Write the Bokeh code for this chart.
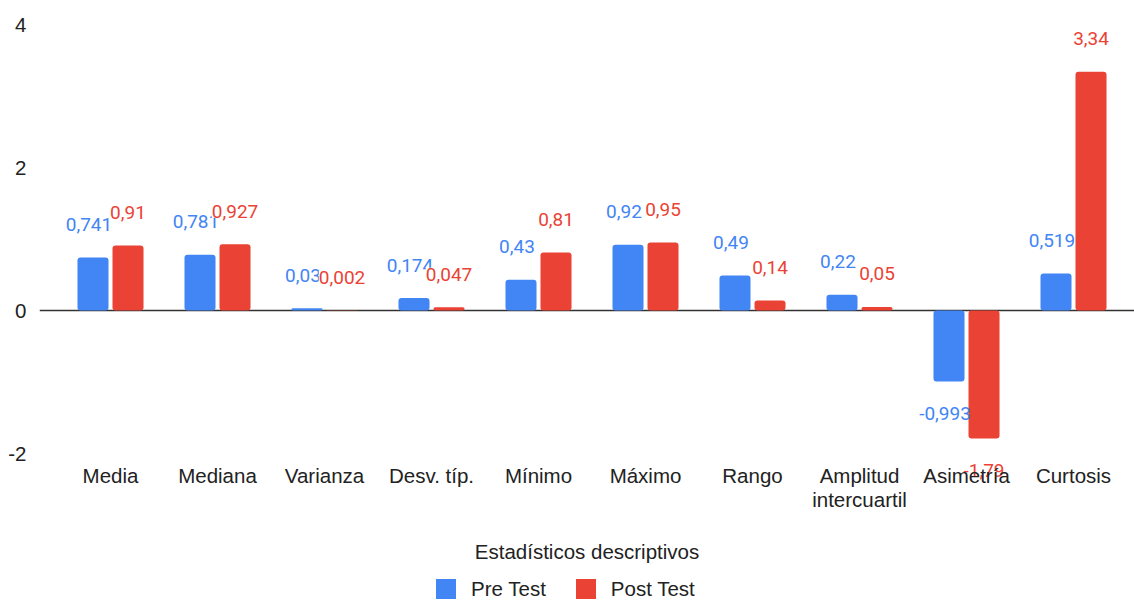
from bokeh.plotting import figure
from bokeh.models import (Range1d, FixedTicker, ColumnDataSource, LabelSet, Span,
                          Legend, LegendItem)
from bokeh.core.properties import value
from bokeh.transform import dodge
from bokeh.embed import file_html
from bokeh.resources import INLINE

categories = ["Media", "Mediana", "Varianza", "Desv. típ.", "Mínimo", "Máximo",
              "Rango", "Amplitud\nintercuartil", "Asimetría", "Curtosis"]
pre_test = [0.741, 0.781, 0.03, 0.174, 0.43, 0.92, 0.49, 0.22, -0.993, 0.519]
post_test = [0.91, 0.927, 0.002, 0.047, 0.81, 0.95, 0.14, 0.05, -1.79, 3.34]
y_ticks = [-2, 0, 2, 4]
series_names = ["Pre Test", "Post Test"]

BLUE = "#4285F4"
RED = "#EA4335"
LBL_FONT = "Roboto"
AX_FONT = "Liberation Sans"
AX_SIZE = "20.5px"
TXT = "#222222"


def fmt(v):
    return str(v).replace(".", ",")


idx = list(range(len(categories)))
src = ColumnDataSource(dict(
    x=idx,
    pre=pre_test,
    post=post_test,
    pre_lbl=[fmt(v) for v in pre_test],
    post_lbl=[fmt(v) for v in post_test],
    pre_off=[33 if v >= 0 else -32 for v in pre_test],
    post_off=[33 if v >= 0 else -32 for v in post_test],
))

# frame spans from the top margin to the bottom of the window; the y scale is
# 71.5 px per unit so that 4 sits at y=24 and -2 at y=453
p = figure(frame_width=1095, frame_height=577,
           x_range=Range1d(-0.6636, 9.570), y_range=Range1d(-4.0699, 4),
           output_backend="svg", toolbar_location=None,
           min_border_left=39, min_border_right=0, min_border_top=24,
           min_border_bottom=0)
p.outline_line_color = None
p.xgrid.visible = False
p.ygrid.visible = False
p.background_fill_color = "white"

zero = Span(location=0, dimension="width", line_color="#333333",
            line_width=1.6, level="underlay")
p.add_layout(zero)

off = 0.1636
bw = 0.29
r_pre = p.vbar(x=dodge("x", -off, range=p.x_range), top="pre", bottom=0,
               width=bw, source=src, fill_color=BLUE, line_color=None,
               border_radius=3)
r_post = p.vbar(x=dodge("x", off, range=p.x_range), top="post", bottom=0,
                width=bw, source=src, fill_color=RED, line_color=None,
                border_radius=3)

lbl_pre = LabelSet(x=dodge("x", -off, range=p.x_range), y="pre", text="pre_lbl",
                   y_offset="pre_off", x_offset=-4, source=src, text_align="center",
                   text_baseline="middle", text_color=BLUE,
                   text_font=value(LBL_FONT), text_font_size="19px", level="glyph")
lbl_post = LabelSet(x=dodge("x", off, range=p.x_range), y="post", text="post_lbl",
                    y_offset="post_off", source=src, text_align="center",
                    text_baseline="middle", text_color=RED,
                    text_font=value(LBL_FONT), text_font_size="19px",
                    background_fill_color="white", level="glyph")
p.add_layout(lbl_pre)
p.add_layout(lbl_post)

# y axis
p.yaxis.ticker = FixedTicker(ticks=y_ticks)
p.yaxis.major_label_overrides = {t: str(t) for t in y_ticks}
p.yaxis.axis_line_color = None
p.yaxis.major_tick_line_color = None
p.yaxis.minor_tick_line_color = None
p.yaxis.major_label_standoff = 7
p.yaxis.major_label_text_font = AX_FONT
p.yaxis.major_label_text_font_size = AX_SIZE
p.yaxis.major_label_text_color = TXT

# x axis (labels pulled up into the frame area)
p.xaxis.ticker = FixedTicker(ticks=idx)
p.xaxis.major_label_overrides = {i: c for i, c in zip(idx, categories)}
p.xaxis.axis_line_color = None
p.xaxis.major_tick_line_color = None
p.xaxis.minor_tick_line_color = None
p.xaxis.major_label_standoff = -144
p.xaxis.major_label_text_font = AX_FONT
p.xaxis.major_label_text_font_size = AX_SIZE
p.xaxis.major_label_text_line_height = 1.05
p.xaxis.major_label_text_color = TXT
p.xaxis.axis_label = "Estadísticos descriptivos"
p.xaxis.axis_label_standoff = 26
p.xaxis.axis_label_text_font = AX_FONT
p.xaxis.axis_label_text_font_size = AX_SIZE
p.xaxis.axis_label_text_font_style = "normal"
p.xaxis.axis_label_text_color = TXT

legend = Legend(items=[LegendItem(label=series_names[0], renderers=[r_pre]),
                       LegendItem(label=series_names[1], renderers=[r_post])],
                orientation="horizontal", location=(394, 0),
                glyph_width=25, glyph_height=25, label_standoff=13,
                spacing=27, padding=0, margin=0,
                label_text_font=AX_FONT, label_text_font_size=AX_SIZE,
                label_text_color=TXT, border_line_color=None,
                background_fill_alpha=0)
p.add_layout(legend)

open("out.html", "w").write(file_html(p, INLINE))
